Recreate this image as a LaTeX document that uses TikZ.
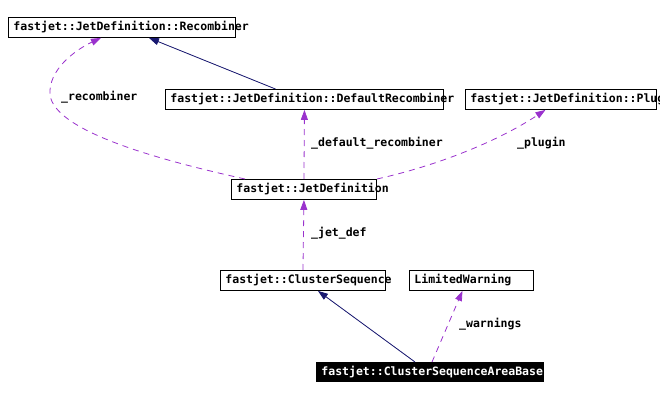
\documentclass[tikz,border=0pt]{standalone}
\usepackage{fontspec}
\usepackage{xcolor}
\usepackage{tikz}
\usetikzlibrary{arrows.meta}
\newfontfamily\classfont{DejaVu Sans Mono}
\newcommand\graphfont{\classfont\fontsize{11.5}{13}\selectfont\bfseries}
\definecolor{baseline}{HTML}{191970}
\definecolor{memberline}{HTML}{9A32CD}

\begin{document}
\begin{tikzpicture}[x=1pt, y=-1pt, >={Triangle[length=10pt,width=7pt]},
        every node/.style={font=\graphfont, execute at begin node={\hyphenpenalty=10000\relax}},
        cls/.style={draw, line width=0.9pt, anchor=north west, align=left, minimum height=20pt, inner xsep=5pt, inner ysep=0pt},
        lbl/.style={anchor=west, inner sep=0pt},
        base/.style={->, draw=baseline, fill=baseline, line width=0.8pt},
        use/.style={->, draw=memberline, line width=0.8pt, dash pattern=on 6pt off 5pt}]
        \useasboundingbox (0,0) rectangle (660,398);

        % Nodes
        \node (recomb) [cls, text width=217pt] at (8,17) {fastjet::JetDefinition::Recombiner};
        \node (defrec) [cls, text width=268pt] at (165,89) {fastjet::JetDefinition::DefaultRecombiner};
        \node (plugin) [cls, text width=181pt] at (465,89) {fastjet::JetDefinition::Plugin};
        \node (jetdef) [cls, text width=135pt] at (231,179) {fastjet::JetDefinition};
        \node (clseq) [cls, text width=155pt] at (220,270) {fastjet::ClusterSequence};
        \node (limw) [cls, text width=114pt] at (409,270) {LimitedWarning};
        \node (csab) [cls, text width=217pt, minimum height=19pt, fill=black, text=white] at (316,362) {fastjet::ClusterSequenceAreaBase};

        % Labels
        \node (lrecomb) [lbl] at (61,97) {\_recombiner};
        \node (ldefrec) [lbl] at (311,143) {\_default\_recombiner};
        \node (lplugin) [lbl] at (517,143) {\_plugin};
        \node (ljetdef) [lbl] at (311,233) {\_jet\_def};
        \node (lwarn) [lbl] at (459,324) {\_warnings};

        % Arrows
        \draw[base] ([xshift=-29pt]defrec.north) -- ([xshift=27pt]recomb.south);
        \draw[use] ([xshift=14pt]jetdef.north west) .. controls (150,158) and (55,130) .. (50,95)
            .. controls (48,70) and (75,50) .. ([xshift=-21pt]recomb.south);
        \draw[use] (jetdef.north) -- (defrec.south);
        \draw[use] (jetdef.north east) .. controls (440,165) and (500,140) .. ([xshift=-15.5pt]plugin.south);
        \draw[use] (clseq.north) -- (jetdef.south);
        \draw[base] ([xshift=99pt]csab.north west) -- ([xshift=15pt]clseq.south);
        \draw[use] ([xshift=116pt]csab.north west) -- ([xshift=-9pt]limw.south);

    \end{tikzpicture}
\end{document}
